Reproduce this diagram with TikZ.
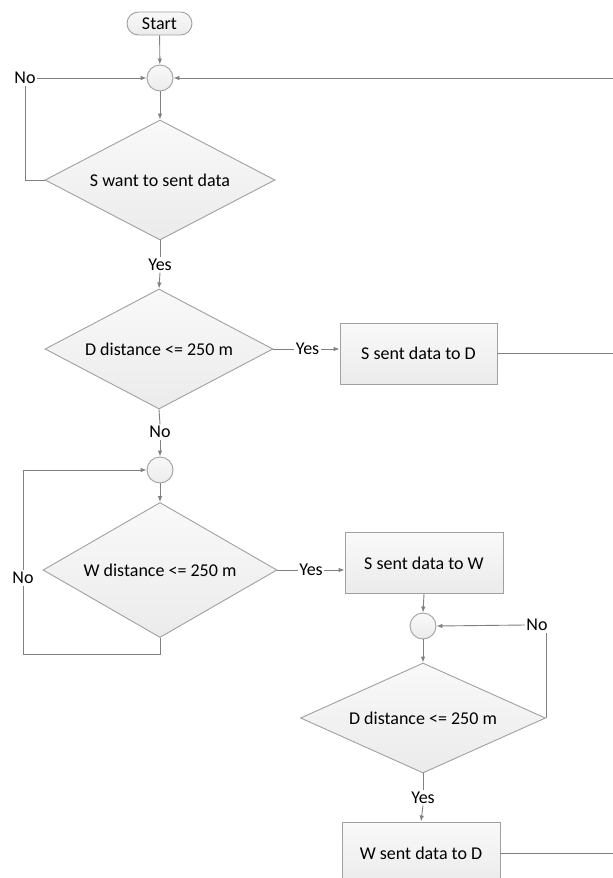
\documentclass[tikz,border=0pt]{standalone}
\usepackage{fontspec}
\setmainfont{Carlito}
\usetikzlibrary{shapes.geometric,arrows.meta}
\definecolor{linegray}{HTML}{808080}
\definecolor{edgegray}{HTML}{A0A0A0}
\definecolor{filltop}{HTML}{F9F9F9}
\definecolor{fillbot}{HTML}{EBEBEB}
\tikzset{
  every node/.style={font=\fontsize{18bp}{21bp}\selectfont, text=black},
  shapebox/.style={draw=edgegray, line width=0.9bp, top color=filltop, bottom color=fillbot},
  startbox/.style={shapebox, rectangle, rounded corners=11.5bp, minimum width=65bp, minimum height=23bp, inner sep=0pt},
  joint/.style={shapebox, circle, minimum size=26bp, inner sep=0pt},
  decision/.style={shapebox, diamond, inner sep=0pt},
  process/.style={shapebox, rectangle, inner sep=0pt},
  lbl/.style={inner sep=1.5bp},
  flow/.style={draw=linegray, line width=0.9bp},
  arr/.style={flow, -{Latex[length=6bp,width=4.5bp]}}
}
\begin{document}
\begin{tikzpicture}[x=1bp,y=-1bp]
\useasboundingbox (0,0) rectangle (613,878);

% shapes
\node[startbox] (start) at (159.5,23.5) {Start};
\node[joint] (c1) at (160,78) {};
\node[decision, minimum width=230bp, minimum height=120bp, aspect=1.917] (d1) at (160,180) {S want to sent data};
\node[decision, minimum width=228bp, minimum height=120bp, aspect=1.9] (d2) at (159,349) {D distance <= 250 m};
\node[process, minimum width=157bp, minimum height=61bp] (bD) at (418.5,353.5) {S sent data to D};
\node[joint] (c2) at (160,470) {};
\node[decision, minimum width=234bp, minimum height=135bp, aspect=1.733] (d3) at (160,570) {W distance <= 250 m};
\node[process, minimum width=158bp, minimum height=61bp] (bW) at (424,563) {S sent data to W};
\node[joint] (c3) at (423,626) {};
\node[decision, minimum width=245bp, minimum height=110bp, aspect=2.227] (d4) at (423,718) {D distance <= 250 m};
\node[process, minimum width=158bp, minimum height=62bp] (bWD) at (421,853) {W sent data to D};

% branch labels
\node[lbl] (no1) at (25,78) {No};
\node[lbl] (yes1) at (160,265) {Yes};
\node[lbl] (yes2) at (307.5,349) {Yes};
\node[lbl] (no2) at (160,432) {No};
\node[lbl] (no3) at (23,578) {No};
\node[lbl] (yes3) at (311,570) {Yes};
\node[lbl] (no4) at (537,625) {No};
\node[lbl] (yes4) at (423,798) {Yes};

% return rail on the right edge
\coordinate (rail) at (620,0);

% main column
\draw[arr] (start) -- (c1);
\draw[arr] (c1) -- (d1);
\draw[flow] (d1.south) -- (yes1.north);
\draw[arr] (yes1.south) -- (d2.north);
\draw[flow] (d2.south) -- (no2.north);
\draw[arr] (no2.south) -- (c2.north);
\draw[arr] (c2) -- (d3);

% "No" loop of the first decision
\draw[flow] (d1.west) -| (no1.south);
\draw[arr] (no1.east) -- (c1.west);

% direct delivery
\draw[flow] (d2.east) -- (yes2.west);
\draw[arr] (yes2.east) -- (yes2.east -| bD.west);
\draw[arr] (bD.east) -- (bD.east -| rail) -- (c1 -| rail) -- (c1.east);

% "No" loop of the relay search
\draw[flow] (d3.south) -- ++(0,16) -| (no3.south);
\draw[arr] (no3.north) |- (c2.west);

% relay path
\draw[flow] (d3.east) -- (yes3.west);
\draw[arr] (yes3.east) -- (yes3.east -| bW.west);
\draw[arr] (bW.south) -- (c3.north);
\draw[arr] (c3.south) -- (d4.north);
\draw[flow] (d4.east) -- (d4.east |- no4.south);
\draw[arr] (no4.west) -- (c3.east);
\draw[flow] (d4.south) -- (yes4.north);
\draw[arr] (yes4.south) -- (bWD.north);
\draw[flow] (bWD.east) -- (bWD.east -| rail) -- (bD.east -| rail);
\end{tikzpicture}
\end{document}
